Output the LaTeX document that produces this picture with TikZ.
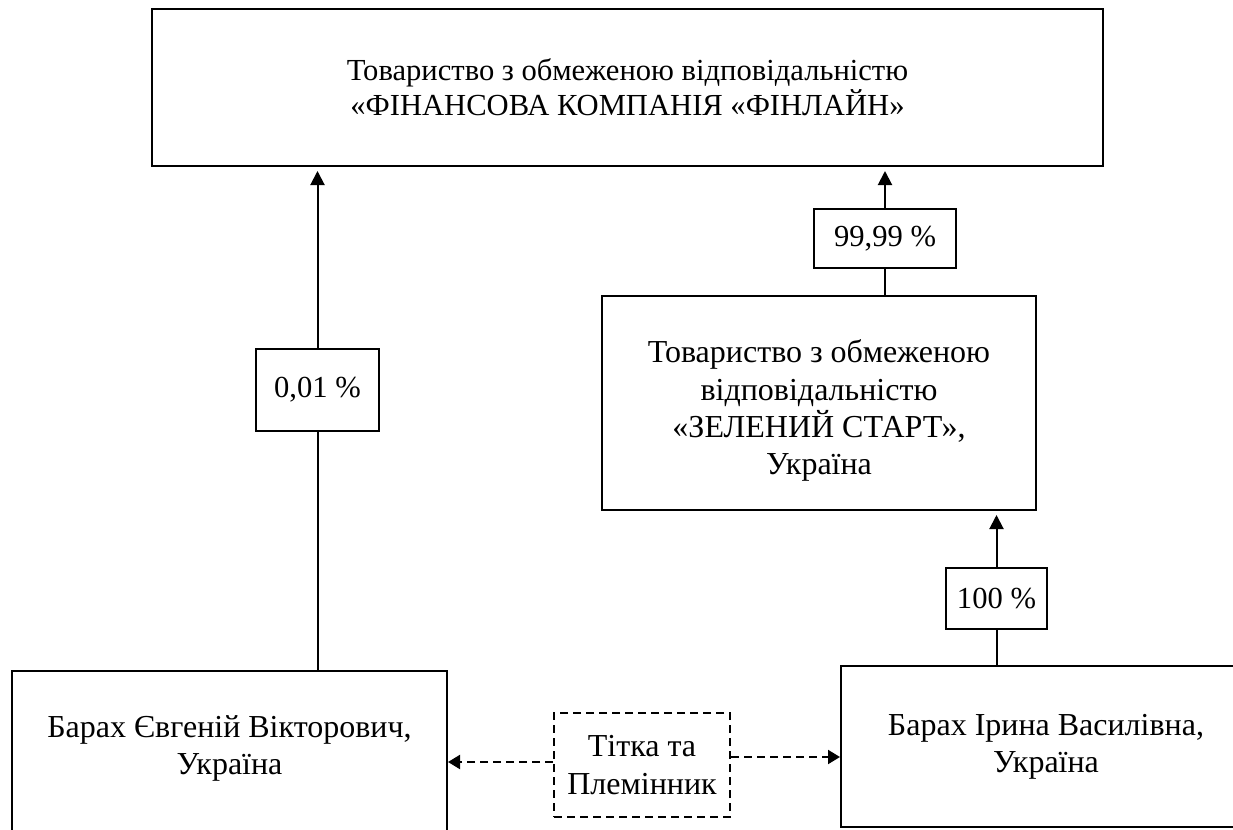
\documentclass[tikz,border=0pt]{standalone}
\usepackage{fontspec}
\setmainfont{Liberation Serif}
\usepackage{tikz}
\usetikzlibrary{arrows.meta,positioning,calc}

\begin{document}
\begin{tikzpicture}[
    x=0.5pt, y=-0.5pt,
    every node/.style={font=\fontsize{16}{18.6}\selectfont},
    entity/.style={rectangle, draw, line width=1pt, align=center, inner sep=0pt},
    share/.style={rectangle, draw, line width=1pt, align=center, inner sep=0pt, font=\fontsize{15.3}{17.5}\selectfont},
    kinbox/.style={rectangle, draw, line width=1pt, dash pattern=on 4pt off 2.5pt, align=center, inner sep=0pt},
    own/.style={line width=1pt},
    ownarr/.style={line width=1pt, -{Triangle[length=7pt, width=7pt]}, shorten >=2pt},
    rel/.style={line width=1pt, dash pattern=on 4pt off 2.5pt, -{Triangle[length=6pt, width=7pt]}}
]
    \useasboundingbox (0,0) rectangle (1233,830);

    \node [entity, minimum width=475.5pt, minimum height=78.5pt, font=\fontsize{15.3}{17.5}\selectfont] (finline) at (627.5,87.5)
        {Товариство з обмеженою відповідальністю\\ «ФІНАНСОВА КОМПАНІЯ «ФІНЛАЙН»};
    \node [entity, minimum width=217pt, minimum height=107pt, text height=75pt] (zelstart) at (819,403)
        {Товариство з обмеженою\\ відповідальністю\\ «ЗЕЛЕНИЙ СТАРТ»,\\ Україна};
    \node [entity, minimum width=217.5pt, minimum height=100pt, text depth=26pt] (barakhye) at (229.5,771)
        {Барах Євгеній Вікторович,\\ Україна};
    \node [entity, minimum width=205pt, minimum height=80.5pt] (barakhir) at (1046,746.5)
        {Барах Ірина Василівна,\\ Україна};
    \node [kinbox, minimum width=88pt, minimum height=52pt] (kin) at (642,765)
        {Тітка та\\ Племінник};

    % Shares
    \node [share, minimum width=61.5pt, minimum height=41pt] (share01) at (317.5,390) {0,01 \%};
    \node [share, minimum width=71pt, minimum height=29.5pt] (share9999) at (885,238.5) {99,99 \%};
    \node [share, minimum width=50.5pt, minimum height=30.5pt] (share100) at (996.5,598.5) {100 \%};

    \draw [own] (share01.south |- barakhye.north) -- (share01.south);
    \draw [ownarr] (share01.north) -- (share01.north |- finline.south);
    \draw [own] (share9999.south |- zelstart.north) -- (share9999.south);
    \draw [ownarr] (share9999.north) -- (share9999.north |- finline.south);
    \draw [own] (share100.south |- barakhir.north) -- (share100.south);
    \draw [ownarr] (share100.north) -- (share100.north |- zelstart.south);

    % Kinship
    \draw [rel] ([yshift=1.5pt]kin.west) -- ([yshift=1.5pt]kin.west -| barakhye.east);
    \draw [rel] ([yshift=4pt]kin.east) -- ([yshift=4pt]kin.east -| barakhir.west);
\end{tikzpicture}
\end{document}
